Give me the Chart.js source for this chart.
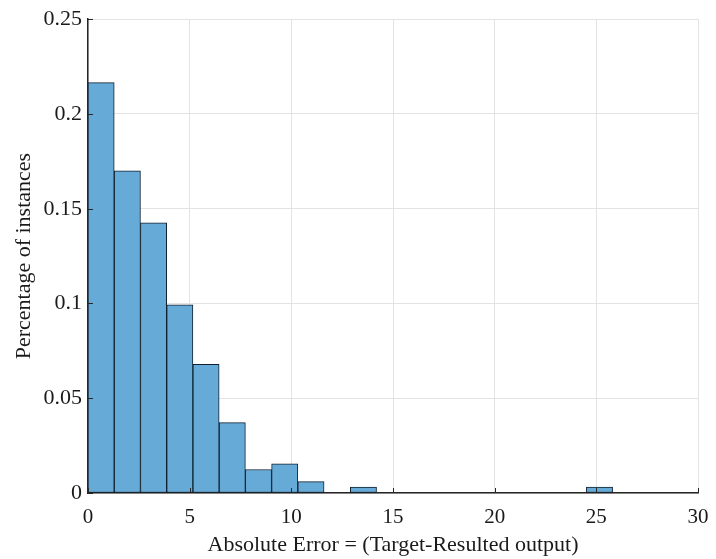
<!DOCTYPE html>
<html>
<head>
<meta charset="utf-8">
<script src="https://cdn.jsdelivr.net/npm/chart.js@4"></script>
<style>
  html, body { margin: 0; padding: 0; background: #fff; }
  #wrap { width: 716px; height: 559px; }
</style>
</head>
<body>
<div id="wrap"><canvas id="histChart" width="716" height="559"></canvas></div>
<script>
// histogram bins (centre of each bin, width 1.29)
var binCenters = [0.645, 1.935, 3.225, 4.515, 5.805, 7.095, 8.385, 9.675, 10.965, 12.255,
                  13.545, 14.835, 16.125, 17.415, 18.705, 19.995, 21.285, 22.575, 23.865, 25.155];
var binValues = [0.2165, 0.170, 0.1425, 0.0993, 0.0679, 0.0371, 0.0124, 0.0154, 0.0060, 0,
                 0.0031, 0, 0, 0, 0, 0, 0, 0, 0, 0.0031];
var xTicks = [0, 5, 10, 15, 20, 25, 30];
var yTicks = [0, 0.05, 0.1, 0.15, 0.2, 0.25];

var points = [];
for (var i = 0; i < binCenters.length; i++) {
    points.push({ x: binCenters[i], y: binValues[i] });
}

// small inward tick marks like the original figure
var innerTicks = {
    id: 'innerTicks',
    afterDraw: function (chart) {
        var c = chart.ctx, a = chart.chartArea;
        var xs = chart.scales.x, ys = chart.scales.y;
        c.save();
        c.strokeStyle = '#262626';
        c.lineWidth = 1;
        xTicks.forEach(function (v) {
            var px = Math.round(xs.getPixelForValue(v)) + 0.5;
            c.beginPath(); c.moveTo(px, a.bottom); c.lineTo(px, a.bottom - 5); c.stroke();
        });
        yTicks.forEach(function (v) {
            var py = Math.round(ys.getPixelForValue(v)) + 0.5;
            c.beginPath(); c.moveTo(a.left, py); c.lineTo(a.left + 5, py); c.stroke();
        });
        c.restore();
    }
};

var ctx = document.getElementById('histChart').getContext('2d');
var myChart = new Chart(ctx, {
    type: 'bar',
    data: {
        datasets: [{
            data: points,
            backgroundColor: '#66aad7',
            borderColor: '#10202e',
            borderWidth: 1,
            borderSkipped: false,
            barPercentage: 1,
            categoryPercentage: 1
        }]
    },
    options: {
        responsive: false,
        animation: false,
        layout: { padding: { left: 8, right: 18, top: 14, bottom: 0 } },
        plugins: {
            legend: { display: false },
            tooltip: { enabled: false }
        },
        scales: {
            x: {
                type: 'linear',
                min: 0,
                max: 30,
                offset: false,
                afterBuildTicks: function (s) { s.ticks = xTicks.map(function (v) { return { value: v }; }); },
                afterFit: function (s) { s.height = 66; s.paddingRight = 0; s.paddingLeft = 0; },
                grid: { color: '#e3e3e3', lineWidth: 1, drawTicks: false, offset: false },
                border: { color: '#262626', width: 1.5 },
                ticks: {
                    color: '#1a1a1a',
                    padding: 12,
                    font: { family: 'Liberation Serif', size: 21 }
                },
                title: {
                    display: true,
                    text: 'Absolute Error = (Target-Resulted output)',
                    color: '#1a1a1a',
                    padding: { top: 2, bottom: 1 },
                    font: { family: 'Liberation Serif', size: 22 }
                }
            },
            y: {
                min: 0,
                max: 0.25,
                afterBuildTicks: function (s) { s.ticks = yTicks.map(function (v) { return { value: v }; }); },
                afterFit: function (s) { s.width = 80; },
                grid: { color: '#e3e3e3', lineWidth: 1, drawTicks: false },
                border: { color: '#262626', width: 1.5 },
                ticks: {
                    color: '#1a1a1a',
                    padding: 6,
                    font: { family: 'Liberation Serif', size: 22 },
                    callback: function (v) { return String(v); }
                },
                title: {
                    display: true,
                    text: 'Percentage of instances',
                    color: '#1a1a1a',
                    padding: { top: 3, bottom: 0 },
                    font: { family: 'Liberation Serif', size: 22 }
                }
            }
        }
    },
    plugins: [innerTicks]
});
</script>
</body>
</html>
